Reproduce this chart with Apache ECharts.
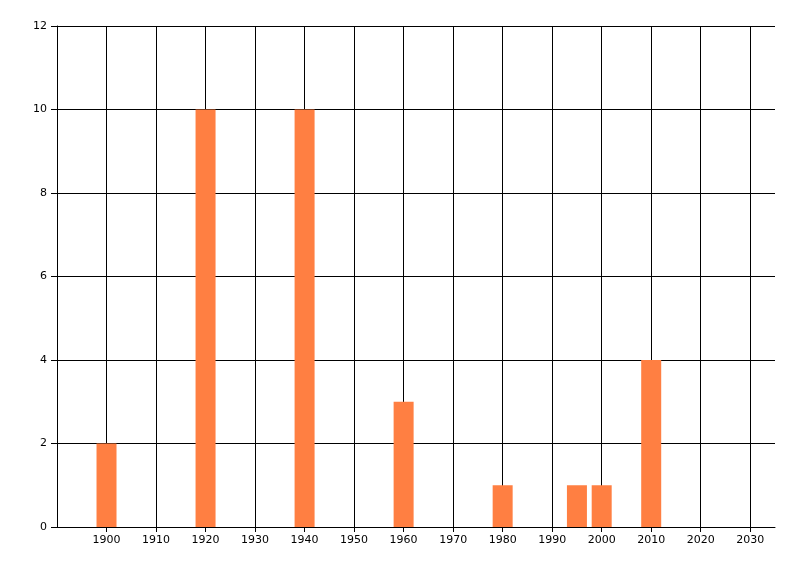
<!DOCTYPE html>
<html>
	<head>
		<meta charset="UTF-8">
		<title></title>
		<style>
			body{ margin: 0; background: #fff; }
		</style>
	</head>
	<script src="https://cdn.jsdelivr.net/npm/echarts@6.0.0/dist/echarts.min.js"></script>
	<body>
		<div id="main" style="width: 800px;height:576px;"></div>
	</body>
	<script>
		// 数据
		var years = [1900, 1920, 1940, 1960, 1980, 1995, 2000, 2010]
		var counts = [2, 10, 10, 3, 1, 1, 1, 4]
		var xTicks = [1900, 1910, 1920, 1930, 1940, 1950, 1960, 1970, 1980, 1990, 2000, 2010, 2020, 2030]
		var yTicks = [0, 2, 4, 6, 8, 10, 12]

		var myChart = echarts.init(document.getElementById('main'))

		var barData = years.map(function (y, i) { return [y, counts[i]] })

		var option = {
			animation: false,
			grid: { left: 57, right: 25, top: 26, bottom: 49 },
			xAxis: {
				type: 'value',
				min: 1890,
				max: 2035,
				interval: 10,
				axisLine: { show: true, lineStyle: { color: '#000', width: 1 } },
				axisTick: { show: true, length: 5, lineStyle: { color: '#000' }, customValues: xTicks },
				axisLabel: {
					color: '#000', fontSize: 11, fontFamily: 'DejaVu Sans', margin: 8,
					customValues: xTicks,
					formatter: function (v) { return xTicks.indexOf(v) >= 0 ? String(v) : '' }
				},
				splitLine: { show: false }
			},
			yAxis: {
				type: 'value',
				min: yTicks[0],
				max: yTicks[yTicks.length - 1],
				interval: 2,
				axisLine: { show: true, lineStyle: { color: '#000', width: 1 } },
				axisTick: { show: true, length: 6, lineStyle: { color: '#000' } },
				axisLabel: { color: '#000', fontSize: 11, fontFamily: 'DejaVu Sans', margin: 10 },
				splitLine: { show: true, lineStyle: { color: '#000', width: 1 } }
			},
			series: [{
				type: 'bar',
				data: barData,
				barWidth: 20,
				itemStyle: { color: '#ff7f42' },
				z: 3,
				markLine: {
					silent: true,
					symbol: 'none',
					label: { show: false },
					lineStyle: { color: '#000', width: 1, type: 'solid' },
					z: 1,
					data: xTicks.map(function (t) { return { xAxis: t } })
				}
			}]
		}

		myChart.setOption(option)
	</script>
</html>
